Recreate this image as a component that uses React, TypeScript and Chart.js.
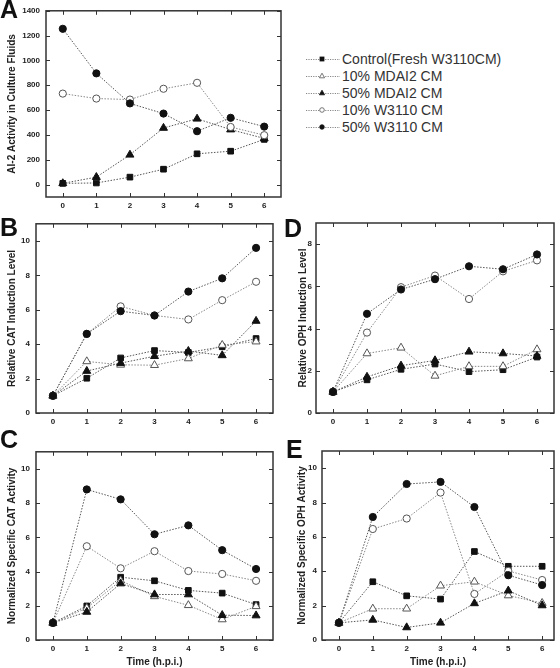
import React, { useEffect, useRef } from 'react';
import { Chart, registerables } from 'chart.js';

Chart.register(...registerables);

const FONT = "'Liberation Sans', Arial, Helvetica, sans-serif";

// ---------- data ----------
const hours = [0, 1, 2, 3, 4, 5, 6];
const seriesNames = [
  'Control(Fresh W3110CM)',
  '10% MDAI2 CM',
  '50% MDAI2 CM',
  '10% W3110 CM',
  '50% W3110 CM',
];

// Panel A: AI-2 activity
const aControl = [10, 13, 60, 124, 248, 269, 364];
const aMdai10: (number | null)[] = [null, null, null, null, null, null, null];
const aMdai50 = [10, 60, 240, 456, 530, 443, 372];
const aW10 = [733, 693, 685, 772, 820, 464, 398];
const aW50 = [1255, 896, 654, 572, 430, 538, 467];

// Panel B: relative CAT induction
const bControl = [1, 2.02, 3.2, 3.63, 3.52, 3.85, 4.33];
const bMdai10 = [1, 3.0, 2.8, 2.78, 3.17, 3.95, 4.15];
const bMdai50 = [1, 2.44, 2.9, 3.3, 3.6, 3.35, 5.35];
const bW10 = [1, 4.6, 6.2, 5.67, 5.44, 6.56, 7.63];
const bW50 = [1, 4.6, 5.92, 5.67, 7.06, 7.83, 9.6];

// Panel C: normalized specific CAT activity
const cControl = [1, 1.99, 3.67, 3.46, 2.9, 2.74, 2.07];
const cMdai10 = [1, 1.87, 3.47, 2.55, 2.03, 1.2, 1.97];
const cMdai50 = [1, 1.64, 3.3, 2.66, 2.66, 1.45, 1.43];
const cW10 = [1, 5.48, 4.19, 5.19, 4.03, 3.86, 3.46];
const cW50 = [1, 8.8, 8.22, 6.18, 6.7, 5.25, 4.15];

// Panel D: relative OPH induction
const dControl = [1, 1.57, 2.07, 2.32, 1.96, 2.05, 2.65];
const dMdai10 = [1, 2.82, 3.09, 1.76, 2.21, 2.21, 3.01];
const dMdai50 = [1, 1.71, 2.24, 2.49, 2.9, 2.82, 2.7];
const dW10 = [1, 3.81, 5.96, 6.51, 5.4, 6.71, 7.23];
const dW50 = [1, 4.7, 5.85, 6.34, 6.95, 6.81, 7.51];

// Panel E: normalized specific OPH activity
const eControl = [1, 3.39, 2.57, 2.38, 5.15, 4.29, 4.29];
const eMdai10 = [1, 1.82, 1.82, 3.16, 3.39, 2.59, 2.15];
const eMdai50 = [1, 1.17, 0.73, 1.0, 2.13, 2.87, 2.01];
const eW10 = [1, 6.46, 7.07, 8.58, 2.68, 4.02, 3.49];
const eW50 = [1, 7.16, 9.08, 9.2, 7.74, 3.77, 3.2];

// tick labels
const xTicks = [0, 1, 2, 3, 4, 5, 6];
const aTicks = [0, 200, 400, 600, 800, 1000, 1200, 1400];
const bTicks = [0, 2, 4, 6, 8, 10];
const cTicks = [0, 2, 4, 6, 8, 10];
const dTicks = [0, 2, 4, 6, 8];
const eTicks = [0, 2, 4, 6, 8, 10];

// ---------- styles ----------
const seriesStyles = [
  { pointStyle: 'rect', radius: 4, bg: '#111', border: '#111', line: '#555' },
  { pointStyle: 'triangle', radius: 4.6, bg: '#fff', border: '#555', line: '#888' },
  { pointStyle: 'triangle', radius: 4.6, bg: '#111', border: '#111', line: '#555' },
  { pointStyle: 'circle', radius: 3.6, bg: '#fff', border: '#555', line: '#888' },
  { pointStyle: 'circle', radius: 3.6, bg: '#111', border: '#111', line: '#555' },
];

type Spec = {
  key: string;
  box: [number, number, number, number]; // x, y, w, h of canvas
  area: { L: number; T: number; R: number; B: number };
  yMin: number;
  yMax: number;
  xMax: number;
  yTicks: number[];
  yTitle: string;
  titleCenter: number; // px from canvas left
  tickPad: number;
  xTitle?: string;
  values: (number | null)[][];
};

const panels: Spec[] = [
  {
    key: 'A', box: [0, 0, 290, 215], area: { L: 46, T: 7, R: 281, B: 197 },
    yMin: -100, yMax: 1400, xMax: 6.5, yTicks: aTicks,
    yTitle: 'AI-2 Activity in Culture Fluids', titleCenter: 12, tickPad: 6,
    values: [aControl, aMdai10, aMdai50, aW10, aW50],
  },
  {
    key: 'B', box: [0, 213, 285, 217], area: { L: 36, T: 223, R: 273, B: 413 },
    yMin: 0, yMax: 11, xMax: 6.5, yTicks: bTicks,
    yTitle: 'Relative CAT Induction Level', titleCenter: 12, tickPad: 6,
    values: [bControl, bMdai10, bMdai50, bW10, bW50],
  },
  {
    key: 'C', box: [0, 441, 285, 227], area: { L: 36, T: 451, R: 273, B: 640 },
    yMin: 0, yMax: 11, xMax: 6.5, yTicks: cTicks,
    yTitle: 'Normalized Specific CAT Activity', titleCenter: 12, tickPad: 6, xTitle: 'Time (h.p.i.)',
    values: [cControl, cMdai10, cMdai50, cW10, cW50],
  },
  {
    key: 'D', box: [290, 213, 270, 217], area: { L: 316, T: 223, R: 554, B: 413 },
    yMin: 0, yMax: 9, xMax: 6.5, yTicks: dTicks,
    yTitle: 'Relative OPH Induction Level', titleCenter: 13, tickPad: 4,
    values: [dControl, dMdai10, dMdai50, dW10, dW50],
  },
  {
    key: 'E', box: [290, 441, 270, 227], area: { L: 322, T: 451, R: 554, B: 640 },
    yMin: 0, yMax: 11, xMax: 6.35, yTicks: eTicks,
    yTitle: 'Normalized Specific OPH Activity', titleCenter: 12, tickPad: 5, xTitle: 'Time (h.p.i.)',
    values: [eControl, eMdai10, eMdai50, eW10, eW50],
  },
];

const framePlugin = {
  id: 'frameTicks',
  beforeDatasetsDraw(chart: any) {
    const { ctx, chartArea } = chart;
    const { left, right, top, bottom } = chartArea;
    const xs = chart.scales.x;
    const ys = chart.scales.y;
    ctx.save();
    ctx.strokeStyle = '#333';
    ctx.lineWidth = 1;
    ctx.beginPath();
    xs.ticks.forEach((t: any) => {
      const px = Math.round(xs.getPixelForValue(t.value)) + 0.5;
      ctx.moveTo(px, bottom);
      ctx.lineTo(px, bottom - 4);
      ctx.moveTo(px, top);
      ctx.lineTo(px, top + 4);
    });
    ys.ticks.forEach((t: any) => {
      const py = Math.round(ys.getPixelForValue(t.value)) + 0.5;
      ctx.moveTo(left, py);
      ctx.lineTo(left + 4, py);
      ctx.moveTo(right, py);
      ctx.lineTo(right - 4, py);
    });
    ctx.stroke();
    ctx.lineWidth = 1.5;
    ctx.strokeRect(left, top, right - left, bottom - top);
    ctx.restore();
  },
};

function Panel({ spec }: { spec: Spec }) {
  const ref = useRef<HTMLCanvasElement>(null);
  useEffect(() => {
    if (!ref.current) return;
    const [x0, y0, w, h] = spec.box;
    const { L, T, R, B } = spec.area;
    const yW = L - x0;
    const xH = y0 + h - B;
    const datasets = spec.values.map((vals, i) => {
      const st = seriesStyles[i];
      return {
        label: seriesNames[i],
        data: hours.map((hr, j) => ({ x: hr, y: vals[j] })),
        borderColor: st.line,
        borderWidth: 1,
        borderDash: [1.5, 1.5],
        pointStyle: st.pointStyle,
        pointRadius: st.radius,
        pointBackgroundColor: st.bg,
        pointBorderColor: st.border,
        pointBorderWidth: 1,
        fill: false,
        tension: 0,
        spanGaps: false,
        order: 5 - i,
      };
    });
    const tickFont = { family: FONT, size: 8, weight: 'bold' as const };
    const titleFont = { family: FONT, size: 10, weight: 'bold' as const };
    const chart = new Chart(ref.current, {
      type: 'line',
      data: { datasets: datasets as any },
      options: {
        responsive: false,
        animation: false,
        devicePixelRatio: 1,
        layout: { padding: { left: 0, top: T - y0, right: x0 + w - R, bottom: 0 } },
        plugins: { legend: { display: false }, tooltip: { enabled: false } },
        scales: {
          x: {
            type: 'linear',
            min: -0.5,
            max: spec.xMax,
            grid: { display: false, drawTicks: false },
            border: { display: false },
            ticks: {
              font: tickFont, color: '#222', padding: 4, autoSkip: false, maxRotation: 0,
              callback: (v: any) => String(v),
            },
            afterBuildTicks: (s: any) => { s.ticks = xTicks.map((v) => ({ value: v })); },
            afterFit: (s: any) => { s.height = xH; },
            title: spec.xTitle
              ? { display: true, text: spec.xTitle, font: titleFont, color: '#222', padding: 0 }
              : { display: false },
          },
          y: {
            type: 'linear',
            min: spec.yMin,
            max: spec.yMax,
            grid: { display: false, drawTicks: false },
            border: { display: false },
            ticks: {
              font: tickFont, color: '#222', padding: spec.tickPad, autoSkip: false,
              callback: (v: any) => String(v),
            },
            afterBuildTicks: (s: any) => { s.ticks = spec.yTicks.map((v) => ({ value: v })); },
            afterFit: (s: any) => { s.width = yW; },
            title: {
              display: true, text: spec.yTitle, font: titleFont, color: '#222',
              padding: spec.titleCenter - 6,
            },
          },
        },
      } as any,
      plugins: [framePlugin],
    });
    return () => chart.destroy();
  }, [spec]);
  const [x0, y0, w, h] = spec.box;
  return (
    <canvas
      ref={ref}
      width={w}
      height={h}
      style={{ position: 'absolute', left: x0, top: y0, width: w, height: h }}
    />
  );
}

const letters: { t: string; x: number; base: number }[] = [
  { t: 'A', x: 0, base: 18 },
  { t: 'B', x: 0, base: 236 },
  { t: 'C', x: 0, base: 448 },
  { t: 'D', x: 284, base: 237 },
  { t: 'E', x: 286, base: 458 },
];

function LegendMarker({ i }: { i: number }) {
  const st = seriesStyles[i];
  const cx = 16;
  const cy = 7;
  let shape: React.ReactNode = null;
  if (st.pointStyle === 'rect') {
    shape = <rect x={cx - 2} y={cy - 2} width={4} height={4} fill={st.bg} stroke={st.border} strokeWidth={0.8} />;
  } else if (st.pointStyle === 'triangle') {
    shape = (
      <polygon
        points={`${cx},${cy - 2.8} ${cx + 2.6},${cy + 1.8} ${cx - 2.6},${cy + 1.8}`}
        fill={st.bg} stroke={st.border} strokeWidth={0.8}
      />
    );
  } else {
    shape = <circle cx={cx} cy={cy} r={2.3} fill={st.bg} stroke={st.border} strokeWidth={0.8} />;
  }
  return (
    <svg width={34} height={14} style={{ display: 'block' }}>
      <line x1={0} y1={cy + 0.5} x2={34} y2={cy + 0.5} stroke="#888" strokeWidth={1} strokeDasharray="1.2 1.2" />
      {shape}
    </svg>
  );
}

export default function App() {
  return (
    <div style={{ position: 'absolute', left: 0, top: 0, width: 560, height: 668, background: '#fff', overflow: 'hidden' }}>
      {panels.map((p) => (
        <Panel key={p.key} spec={p} />
      ))}
      {letters.map((l) => (
        <div
          key={l.t}
          style={{
            position: 'absolute', left: l.x, top: l.base - 21, fontFamily: FONT, fontWeight: 'bold',
            fontSize: 25, lineHeight: '25px', color: '#111',
          }}
        >
          {l.t}
        </div>
      ))}
      {seriesNames.map((name, i) => (
        <div
          key={name}
          style={{
            position: 'absolute', left: 306, top: 59 + i * 17 - 8, height: 16,
            display: 'flex', alignItems: 'center', whiteSpace: 'nowrap',
          }}
        >
          <LegendMarker i={i} />
          <span style={{ marginLeft: 2, fontFamily: FONT, fontSize: 14, color: '#333' }}>{name}</span>
        </div>
      ))}
    </div>
  );
}
